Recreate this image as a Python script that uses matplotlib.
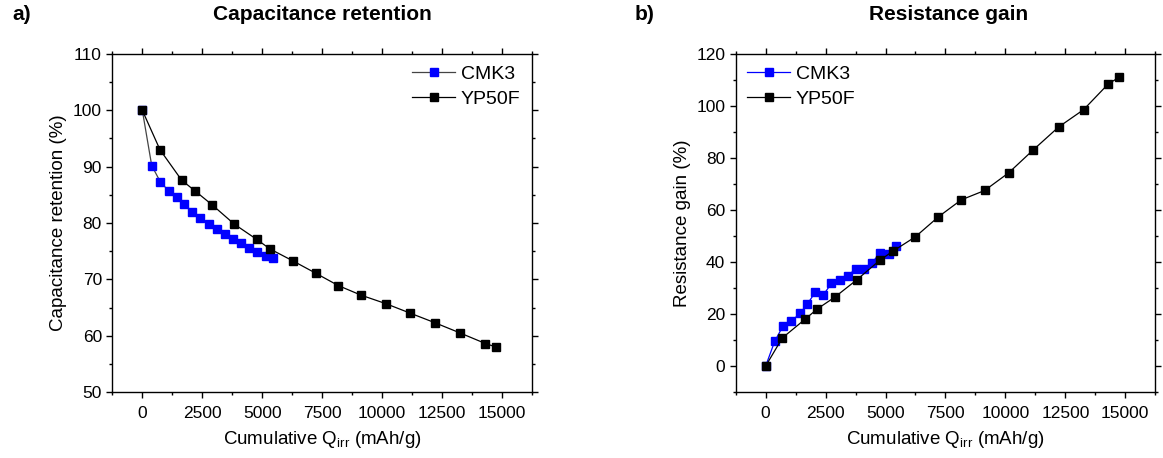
import matplotlib
matplotlib.use("Agg")
import matplotlib.pyplot as plt
from matplotlib.ticker import MultipleLocator

plt.rcParams['font.family'] = ['Liberation Sans', 'DejaVu Sans']
plt.rcParams['mathtext.fontset'] = 'custom'
plt.rcParams['mathtext.rm'] = 'Liberation Sans'
plt.rcParams['mathtext.it'] = 'Liberation Sans:italic'

# ---- Data: capacitance retention (%) ----
cap_cmk3_x = [0, 391, 751, 1097, 1431, 1750, 2083, 2417, 2766, 3100, 3433, 3766,
              4100, 4433, 4766, 5166, 5458]
cap_cmk3_y = [100, 90.2, 87.3, 85.7, 84.6, 83.3, 82.0, 80.8, 79.8, 78.9, 78.1, 77.2,
              76.5, 75.6, 74.9, 74.1, 73.8]
cap_yp_x = [0, 737, 1640, 2196, 2917, 3833, 4766, 5321, 6266, 7225, 8167, 9113,
            10142, 11167, 12196, 13237, 14308, 14737]
cap_yp_y = [100, 93.0, 87.6, 85.7, 83.2, 79.8, 77.1, 75.4, 73.3, 71.1, 68.9, 67.2,
            65.7, 64.0, 62.3, 60.5, 58.6, 58.0]

# ---- Data: resistance gain (%) ----
res_cmk3_x = [0, 377, 724, 1071, 1423, 1741, 2075, 2410, 2745, 3080, 3414, 3766,
              4084, 4418, 4753, 5159, 5452]
res_cmk3_y = [0, 9.5, 15.4, 17.2, 20.2, 23.9, 28.4, 27.4, 31.8, 33.0, 34.6, 37.5,
              37.5, 39.5, 43.3, 43.1, 46.3]
res_yp_x = [0, 695, 1632, 2160, 2887, 3808, 4753, 5314, 6247, 7209, 8159, 9134,
            10138, 11172, 12218, 13264, 14293, 14737]
res_yp_y = [0, 10.8, 17.9, 22.0, 26.5, 33.2, 40.6, 44.2, 49.7, 57.4, 63.9, 67.5,
            74.3, 83.2, 91.9, 98.6, 108.5, 111.0]

xticks = [0, 2500, 5000, 7500, 10000, 12500, 15000]

fig = plt.figure(figsize=(11.63, 4.58), dpi=100)
ax1 = fig.add_axes([0.0966, 0.1441, 0.3609, 0.738])
ax2 = fig.add_axes([0.6326, 0.1441, 0.3607, 0.738])

ms_b = 5.4
ms_k = 5.7
lw = 0.9

ax1.plot(cap_cmk3_x, cap_cmk3_y, '-s', color='#444444', lw=lw, ms=ms_b,
         mfc='#0000ff', mec='#0000ff', label='CMK3')
ax1.plot(cap_yp_x, cap_yp_y, '-s', color='black', lw=lw, ms=ms_k,
         mfc='black', mec='black', label='YP50F')

ax2.plot(res_cmk3_x, res_cmk3_y, '-s', color='#0000ff', lw=lw, ms=ms_b,
         mfc='#0000ff', mec='#0000ff', label='CMK3')
ax2.plot(res_yp_x, res_yp_y, '-s', color='black', lw=lw, ms=ms_k,
         mfc='black', mec='black', label='YP50F')

ax1.set_ylim(50, 110)
ax1.yaxis.set_major_locator(MultipleLocator(10))
ax1.yaxis.set_minor_locator(MultipleLocator(5))
ax2.set_ylim(-10, 120)
ax2.yaxis.set_major_locator(MultipleLocator(20))
ax2.yaxis.set_minor_locator(MultipleLocator(10))

for ax in (ax1, ax2):
    ax.set_xlim(-1250, 16250)
    ax.set_xticks(xticks)
    ax.xaxis.set_minor_locator(MultipleLocator(1250))
    ax.tick_params(which='both', direction='out', top=True, right=True,
                   labelsize=12.5, width=1.0)
    ax.tick_params(which='major', length=4)
    ax.tick_params(which='minor', length=2.2)
    ax.tick_params(axis='x', which='major', pad=6)
    for s in ax.spines.values():
        s.set_linewidth(1.0)
    ax.set_xlabel('Cumulative Q$_{\\mathrm{irr}}$ (mAh/g)', fontsize=13.5, labelpad=6)

ax1.set_ylabel('Capacitance retention (%)', fontsize=13.5, labelpad=4)
ax2.set_ylabel('Resistance gain (%)', fontsize=13.5, labelpad=4)

ax1.legend(loc='upper right', frameon=False, fontsize=14, handlelength=2.2,
           handletextpad=0.3, labelspacing=0.35, borderaxespad=0.2,
           bbox_to_anchor=(1.0, 1.0))
ax2.legend(loc='upper left', frameon=False, fontsize=14, handlelength=2.2,
           handletextpad=0.3, labelspacing=0.35, borderaxespad=0.2,
           bbox_to_anchor=(0.0, 1.0))

ty = 1 - 15 / 458
fig.text((112.3 + 532) / 2 / 1163, ty, 'Capacitance retention', ha='center',
         va='center', fontsize=15, fontweight='bold')
fig.text((735.7 + 1155) / 2 / 1163 + 3 / 1163, ty, 'Resistance gain', ha='center',
         va='center', fontsize=15, fontweight='bold')
fig.text(12 / 1163, ty, 'a)', ha='left', va='center', fontsize=15, fontweight='bold')
fig.text(635 / 1163, ty, 'b)', ha='left', va='center', fontsize=15, fontweight='bold')

fig.savefig('out.png', dpi=100)
